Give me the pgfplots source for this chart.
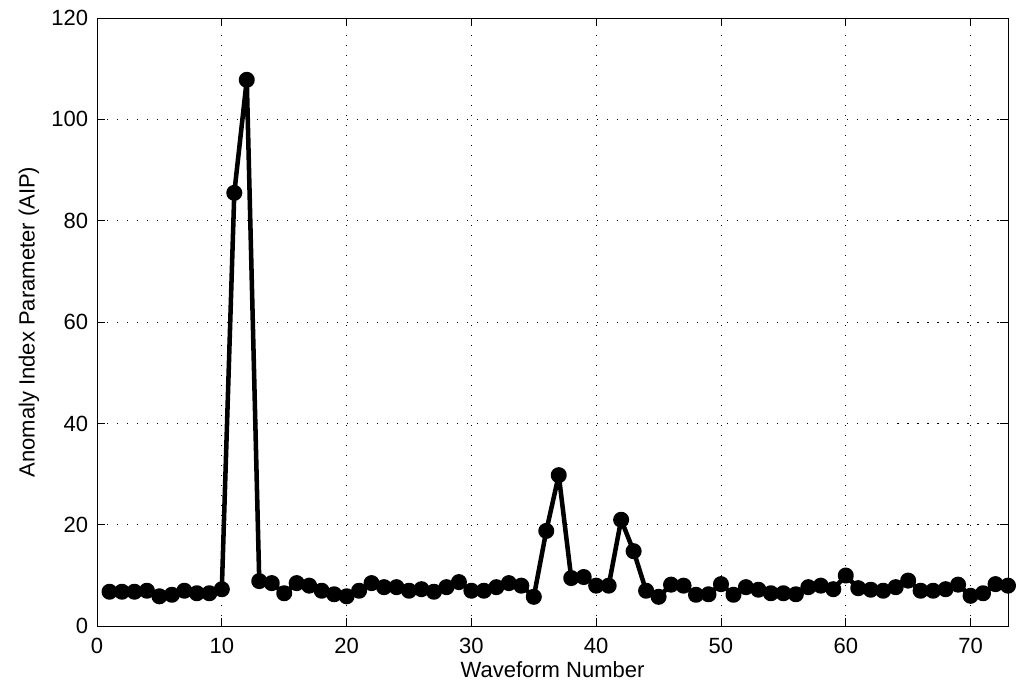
\documentclass[border=0pt]{standalone}
\usepackage{pgfplots}
\pgfplotsset{compat=1.18}
\usepackage{fontspec}
\setmainfont{Liberation Sans}
\begin{document}
\begin{tikzpicture}
\fontsize{16.5pt}{19pt}\selectfont
\begin{axis}[name=ax,
  scale only axis, width=683pt, height=456pt,
  xmin=0, xmax=73, ymin=0, ymax=120,
  xtick={0,10,...,70}, ytick={0,20,...,120},
  tick align=inside, major tick length=6pt,
  grid=major, grid style={black, line width=0.7pt, dash pattern=on 0.9pt off 6.6pt},
  axis line style={black, line width=0.6pt},
  tick style={black, line width=0.6pt},
  /pgf/number format/assume math mode=true,
  ticklabel style={font=\fontsize{16.5pt}{19pt}\selectfont},
  label style={font=\fontsize{16.5pt}{19pt}\selectfont},
  xticklabel style={yshift=-3pt},
  yticklabel style={xshift=-1pt},
  xlabel={Waveform Number}, ylabel={Anomaly Index Parameter (AIP)},
  xlabel style={yshift=5pt}, ylabel style={yshift=-2pt},
]
\addplot[black, line width=3.4pt, line join=round, mark=*, mark size=4.3pt, mark options={solid}] coordinates {
(1,6.8)(2,6.8)(3,6.8)(4,7.0)(5,5.9)(6,6.2)(7,7.0)(8,6.5)(9,6.5)(10,7.3)
(11,85.5)(12,107.8)(13,8.9)(14,8.5)(15,6.5)(16,8.5)(17,8.0)(18,7.0)(19,6.3)(20,5.9)
(21,7.0)(22,8.5)(23,7.7)(24,7.7)(25,7.0)(26,7.3)(27,6.8)(28,7.7)(29,8.7)(30,7.0)
(31,7.0)(32,7.7)(33,8.5)(34,8.0)(35,5.8)(36,18.8)(37,29.8)(38,9.5)(39,9.7)(40,8.0)
(41,8.0)(42,21.0)(43,14.8)(44,7.0)(45,5.8)(46,8.2)(47,8.0)(48,6.2)(49,6.3)(50,8.3)
(51,6.2)(52,7.7)(53,7.2)(54,6.5)(55,6.5)(56,6.3)(57,7.7)(58,8.0)(59,7.3)(60,10.0)
(61,7.5)(62,7.2)(63,7.0)(64,7.7)(65,9.0)(66,7.0)(67,7.0)(68,7.3)(69,8.2)(70,6.0)
(71,6.5)(72,8.3)(73,8.0)
};
\end{axis}
\path[use as bounding box] ([shift={(-72.75pt,-52.5pt)}]ax.south west) rectangle ([shift={(12pt,13.5pt)}]ax.north east);
\end{tikzpicture}
\end{document}
